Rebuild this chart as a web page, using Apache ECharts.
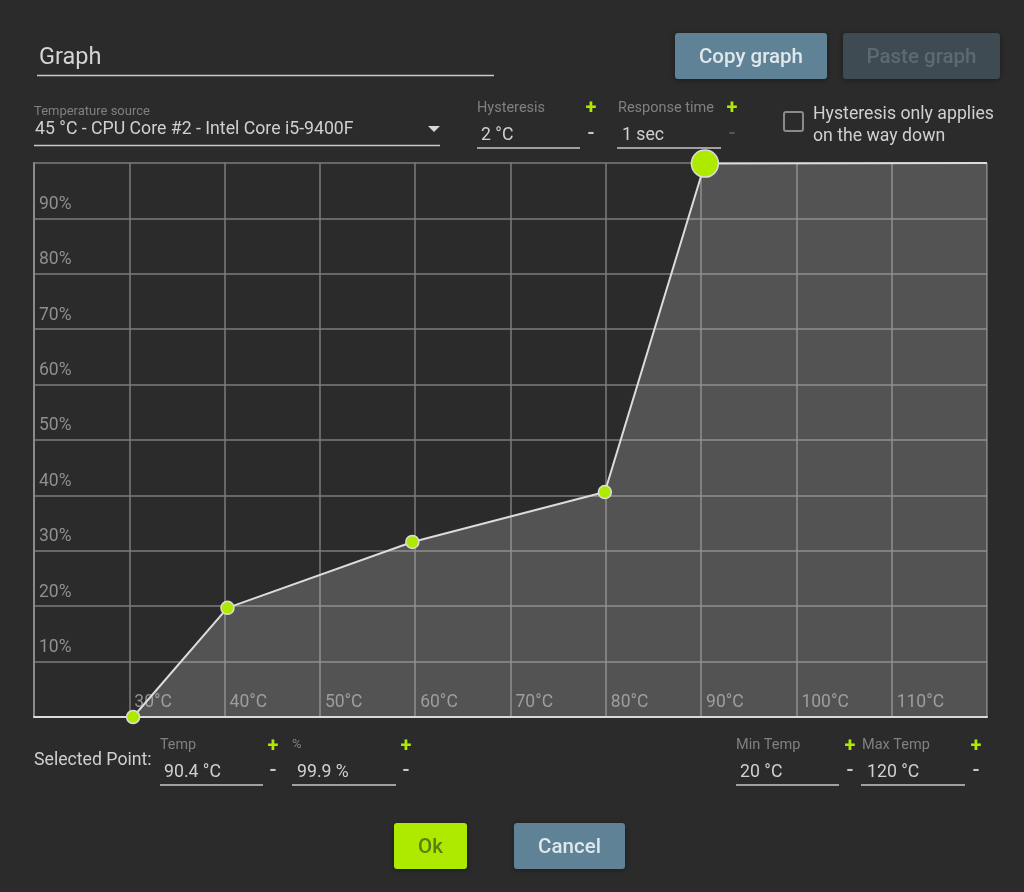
<!DOCTYPE html>
<html>
<head>
<meta charset="utf-8">
<style>html,body{margin:0;padding:0;background:#2b2b2b}#c{width:1024px;height:892px}</style>
<script src="https://cdn.jsdelivr.net/npm/echarts@6/dist/echarts.min.js"></script>
</head>
<body>
<div id="c"></div>
<script>
const temps = [30.4, 40.3, 59.7, 79.9, 90.4, 120];
const duty = [0, 19.7, 31.6, 40.6, 99.9, 100];
const symbolSizes = [13, 13, 13, 13, 27, 0];

const GREEN = '#aeea00';
const FONT = 'Roboto';
const el = [];
function text(x, y, s, size, fill, opt) {
  el.push({type:'text', silent:true, z:10, style:Object.assign({x, y, text:s, fontSize:size, fontFamily:FONT, fill, verticalAlign:'middle'}, opt||{})});
}
function rule(x1, x2, y, color, w) {
  el.push({type:'line', silent:true, z:10, shape:{x1, y1:y, x2, y2:y}, style:{stroke:color||'#c8c8c8', lineWidth:w||1.5}});
}
function button(x, y, w, h, fill, label, color, size) {
  el.push({type:'rect', silent:true, z:10, shape:{x, y, width:w, height:h, r:3}, style:{fill, shadowBlur:5, shadowColor:'rgba(0,0,0,0.35)', shadowOffsetY:1}});
  text(x + w / 2, y + h / 2 + 2, label, size || 20.5, color, {align:'center', fontWeight:500});
}
function stepper(x, yPlus, yMinus, minusColor) {
  text(x, yPlus, '+', 20, GREEN, {align:'center', fontWeight:700});
  text(x, yMinus, '-', 19, minusColor || '#c8c8c8', {align:'center', fontWeight:700});
}

text(39, 58, 'Graph', 23.5, '#d4d4d4');
rule(37, 494, 75.5);
button(675, 33, 152, 46, '#5f8296', 'Copy graph', '#dfe8ec');
button(843, 33, 157, 46, '#3f4b52', 'Paste graph', '#5d6a71');

text(34, 111.5, 'Temperature source', 13, '#808080');
text(35, 130, '45 °C - CPU Core #2 - Intel Core i5-9400F', 17.7, '#d0d0d0');
el.push({type:'polygon', silent:true, z:10, shape:{points:[[428,126],[440,126],[434,132]]}, style:{fill:'#d8d8d8'}});
rule(34, 440, 145.5);

text(477, 108, 'Hysteresis', 14.5, '#808080');
text(481, 136, '2 °C', 17.7, '#d0d0d0');
rule(477, 580, 148);
stepper(591, 109, 134);

text(618, 108, 'Response time', 14.5, '#808080');
text(622, 136, '1 sec', 17.7, '#d0d0d0');
rule(617, 721, 148);
stepper(732, 109, 134, '#555555');

el.push({type:'rect', silent:true, z:10, shape:{x:784, y:112, width:19, height:19, r:2}, style:{fill:'none', stroke:'#8a8a8a', lineWidth:2}});
text(813, 114.5, 'Hysteresis only applies', 17.7, '#d0d0d0');
text(813, 136.5, 'on the way down', 17.7, '#d0d0d0');

text(34, 761, 'Selected Point:', 17.7, '#cfcfcf');
text(160, 745, 'Temp', 14.3, '#808080');
text(164, 773, '90.4 °C', 17.7, '#d0d0d0');
rule(160, 263, 785);
stepper(273, 747, 771);
text(292, 745, '%', 13, '#808080');
text(297, 773, '99.9 %', 17.7, '#d0d0d0');
rule(292, 396, 785);
stepper(406, 747, 771);

text(736, 745, 'Min Temp', 14.5, '#808080');
text(740, 773, '20 °C', 17.7, '#d0d0d0');
rule(736, 839, 785);
stepper(850, 747, 771);
text(862, 745, 'Max Temp', 14.5, '#808080');
text(867, 773, '120 °C', 17.7, '#d0d0d0');
rule(861, 965, 785);
stepper(976, 747, 771);

button(394, 823, 73, 46, GREEN, 'Ok', '#5c7d0e');
button(514, 823, 111, 46, '#5f8296', 'Cancel', '#dfe8ec');

const chart = echarts.init(document.getElementById('c'), null, {renderer:'canvas'});
chart.setOption({
  animation:false,
  backgroundColor:'#2b2b2b',
  grid:{left:34, top:163, width:953, height:554},
  xAxis:{
    type:'value', min:20, max:120, interval:10,
    axisLine:{show:true, onZero:false, lineStyle:{color:'#dcdcdc', width:2}},
    axisTick:{show:false},
    splitLine:{show:true, lineStyle:{color:'#7c7c7c', width:1.5}},
    axisLabel:{inside:true, showMinLabel:false, showMaxLabel:false, formatter:'{value}°C', color:'#8f8f8f', fontFamily:FONT, fontSize:17.5, align:'left', padding:[0,0,0,5], margin:5}
  },
  yAxis:{
    type:'value', min:0, max:100, interval:10,
    axisLine:{show:true, onZero:false, lineStyle:{color:'#8a8a8a', width:2}},
    axisTick:{show:false},
    splitLine:{show:true, lineStyle:{color:'#7c7c7c', width:1.5}},
    axisLabel:{inside:true, showMinLabel:false, showMaxLabel:false, formatter:'{value}%', color:'#8f8f8f', fontFamily:FONT, fontSize:17.5, align:'left', verticalAlign:'bottom', margin:5, padding:[0,0,5,0]}
  },
  series:[{
    type:'line', clip:false, z:3,
    data:temps.map((t,i)=>({value:[t,duty[i]], symbolSize:symbolSizes[i], symbol:symbolSizes[i]?'circle':'none'})),
    lineStyle:{color:'#dcdcdc', width:2},
    itemStyle:{color:GREEN, borderColor:'#dcdcdc', borderWidth:1.5},
    areaStyle:{color:'rgba(205,205,205,0.25)', opacity:1},
    showSymbol:true,
    showAllSymbol:true
  }],
  graphic:{elements:el}
});
</script>
</body>
</html>
